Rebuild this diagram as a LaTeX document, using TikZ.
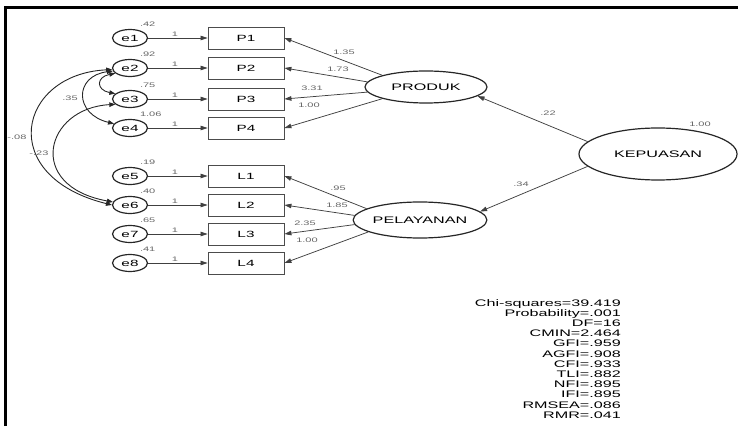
\documentclass[tikz,border=0pt]{standalone}
\usepackage{fontspec}
\setmainfont{Liberation Sans}
\usepackage{graphicx}
\usetikzlibrary{shapes.geometric, arrows.meta}
\newcommand{\widetxt}[1]{\scalebox{1.7}[1]{#1}}
\tikzset{
  err/.style={ellipse, draw=black!85, line width=1.2pt, minimum width=35pt, minimum height=17pt, inner sep=0pt, font=\fontsize{9}{9}\selectfont},
  obs/.style={rectangle, draw=black!70, line width=0.8pt, minimum width=76pt, minimum height=22pt, inner sep=0pt, font=\fontsize{9}{9}\selectfont},
  lat/.style={ellipse, draw=black!85, line width=1.2pt, inner sep=0pt, font=\fontsize{9.5}{9.5}\selectfont},
  lbl/.style={inner sep=1pt, text=black!60, font=\fontsize{6.5}{6.5}\selectfont},
  var/.style={lbl, anchor=south west, xshift=-4pt, yshift=4pt},
  arr/.style={color=black!75, line width=0.75pt, -{Triangle[length=7pt,width=4.5pt]}},
  cov/.style={draw=black!85, line width=0.9pt, {Triangle[length=6pt,width=4.5pt]}-{Triangle[length=6pt,width=4.5pt]}},
}
\begin{document}
\begin{tikzpicture}[x=1pt, y=1pt]
  \useasboundingbox (0,0) rectangle (738,426);
  \draw[line width=3pt] (5.5,0) -- (5.5,418) -- (738,418);

  \foreach \i/\y/\v in {1/388/.42, 2/358/.92, 3/327/.75, 4/298/1.06}{
    \node[err, label={[var]north east:\widetxt{\v}}] (e\i) at (130,\y) {\widetxt{e\i}};
    \node[obs] (p\i) at (246,\y) {\widetxt{P\i}};
    \draw[arr] (e\i) -- node[lbl, above, pos=.45] {\widetxt{1}} (p\i);
  }
  \foreach \i/\j/\y/\v in {5/1/250/.19, 6/2/221/.40, 7/3/192/.65, 8/4/163/.41}{
    \node[err, label={[var]north east:\widetxt{\v}}] (e\i) at (130,\y) {\widetxt{e\i}};
    \node[obs] (l\j) at (246,\y) {\widetxt{L\j}};
    \draw[arr] (e\i) -- node[lbl, above, pos=.45] {\widetxt{1}} (l\j);
  }

  \node[lat, minimum width=122pt, minimum height=32pt] (prod) at (426,339) {\widetxt{PRODUK}};
  \node[lat, minimum width=121pt, minimum height=36pt] (pel) at (420,206) {\widetxt{PELAYANAN}};
  \node[lat, minimum width=158pt, minimum height=52pt] (kep) at (658,272) {\widetxt{KEPUASAN}};

  \path[arr]
    (prod.165) edge (p1.east)
    (prod.175) edge (p2.east)
    (prod.185) edge (p3.east)
    (prod.195) edge (p4.east)
    (pel.168) edge (l1.east)
    (pel.176) edge (l2.east)
    (pel.184) edge (l3.east)
    (pel.193) edge (l4.east)
    (kep.170) edge (prod.-10)
    (kep.190) edge (pel.8)
    ;

  \node[lbl] (w1) at (344,374) {\widetxt{1.35}};
  \node[lbl] (w2) at (338,357) {\widetxt{1.73}};
  \node[lbl] (w3) at (312,338) {\widetxt{3.31}};
  \node[lbl] (w4) at (309,321) {\widetxt{1.00}};
  \node[lbl] (w5) at (338,238) {\widetxt{.95}};
  \node[lbl] (w6) at (337,221) {\widetxt{1.85}};
  \node[lbl] (w7) at (305,203) {\widetxt{2.35}};
  \node[lbl] (w8) at (307,186) {\widetxt{1.00}};
  \node[lbl] (w9) at (548,313) {\widetxt{.22}};
  \node[lbl] (w10) at (521,242) {\widetxt{.34}};
  \node[lbl] (vk) at (700,302) {\widetxt{1.00}};

  \draw[cov] (e2.200) .. controls (96,349) and (96,336) .. (e3.160);
  \draw[cov] (e2.190) .. controls (74,350) and (74,312) .. (e4.165);
  \draw[cov] (e2.185) .. controls (18,352) and (-5,250) .. (e6.180);
  \draw[cov] (e3.200) .. controls (45,318) and (25,240) .. (e6.170);
  \node[lbl] (c1) at (70,328) {\widetxt{.35}};
  \node[lbl] (c2) at (17,289) {\widetxt{-.08}};
  \node[lbl] (c3) at (39,273) {\widetxt{-.23}};

  \node[align=right, anchor=north east, inner sep=0pt, font=\fontsize{9.5}{10.2}\selectfont] (fit) at (621,127)
    {\widetxt{Chi-squares=39.419}\\ \widetxt{Probability=.001}\\ \widetxt{DF=16}\\ \widetxt{CMIN=2.464}\\
     \widetxt{GFI=.959}\\ \widetxt{AGFI=.908}\\ \widetxt{CFI=.933}\\ \widetxt{TLI=.882}\\
     \widetxt{NFI=.895}\\ \widetxt{IFI=.895}\\ \widetxt{RMSEA=.086}\\ \widetxt{RMR=.041}};
\end{tikzpicture}
\end{document}
